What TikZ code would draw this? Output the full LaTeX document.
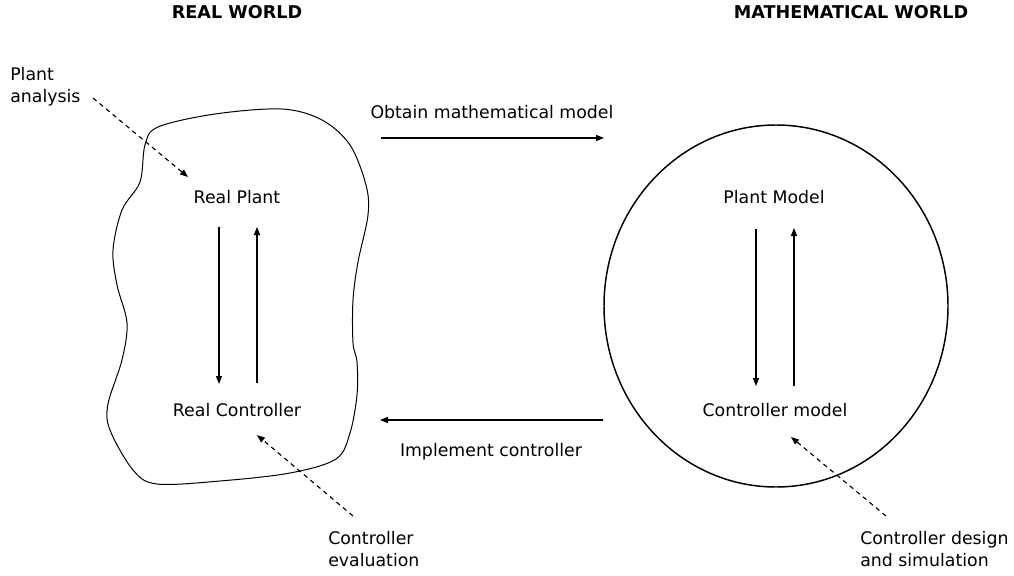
\documentclass[tikz,border=0pt]{standalone}
\usepackage{fontspec}
\setmainfont{DejaVu Sans}
\usetikzlibrary{arrows.meta}
\begin{document}
\begin{tikzpicture}[x=0.75pt,y=-0.75pt,
  lbl/.style={font=\fontsize{13}{16.5}\selectfont, inner sep=0pt},
  hdr/.style={font=\fontsize{13.2}{15}\selectfont\bfseries, inner sep=0pt},
  note/.style={lbl, align=left, anchor=west},
  flow/.style={line width=0.85pt, -{Triangle[length=6pt,width=4.6pt]}},
  hint/.style={line width=0.85pt, dash pattern=on 3.4pt off 3pt, -{Triangle[length=6pt,width=4.6pt]}},
  blob/.style={line width=0.75pt},
  world/.style={line width=1.1pt}]
\useasboundingbox (0,0) rectangle (1014,575);

% headers
\node[hdr] (hreal) at (237,12) {REAL WORLD};
\node[hdr] (hmath) at (851,12) {MATHEMATICAL WORLD};

% real world blob
\draw[blob] plot[smooth cycle, tension=0.55] coordinates {
  (158,127) (215,114) (282,109) (322,120) (350,145) (366,185) (368,215)
  (358,262) (353,300) (353,343) (357,362) (357,395) (350,433) (336,459)
  (290,473) (220,481) (157,484) (133,470) (110,430) (108,404) (122,360)
  (127,323) (117,285) (113,250) (122,210) (140,182) (145,145)};

% math world circle
\draw[world] (776,306) ellipse [x radius=172, y radius=181];

% nodes
\node[lbl] (rp) at (237,197) {Real Plant};
\node[lbl] (rc) at (237,410) {Real Controller};
\node[lbl] (pm) at (774,197) {Plant Model};
\node[lbl] (cm) at (775,410) {Controller model};

\node[lbl] (obt) at (492,112) {Obtain mathematical model};
\node[lbl] (imp) at (491,452) {Implement controller};

\node[note] (pa) at (10,87) {Plant\\analysis};
\node[note] (ce) at (328,549) {Controller\\evaluation};
\node[note] (cd) at (860,549) {Controller design\\and simulation};

% connector endpoints
\coordinate (rpd1) at (219,227);
\coordinate (rpd2) at (219,384);
\coordinate (rpu1) at (257,383);
\coordinate (rpu2) at (257,227);
\coordinate (pmd1) at (756,229);
\coordinate (pmd2) at (756,386);
\coordinate (pmu1) at (794,386);
\coordinate (pmu2) at (794,228);
\coordinate (obt1) at (381,138);
\coordinate (obt2) at (604,138);
\coordinate (imp1) at (603,420);
\coordinate (imp2) at (380,420);
\coordinate (pa1) at (93,98);
\coordinate (pa2) at (188,177);
\coordinate (ce1) at (353,516);
\coordinate (ce2) at (257,435);
\coordinate (cd1) at (886,516);
\coordinate (cd2) at (791,437);

\draw[flow] (rpd1) -- (rpd2);
\draw[flow] (rpu1) -- (rpu2);
\draw[flow] (pmd1) -- (pmd2);
\draw[flow] (pmu1) -- (pmu2);
\draw[flow] (obt1) -- (obt2);
\draw[flow] (imp1) -- (imp2);
\draw[hint] (pa1) -- (pa2);
\draw[hint] (ce1) -- (ce2);
\draw[hint] (cd1) -- (cd2);
\end{tikzpicture}
\end{document}
